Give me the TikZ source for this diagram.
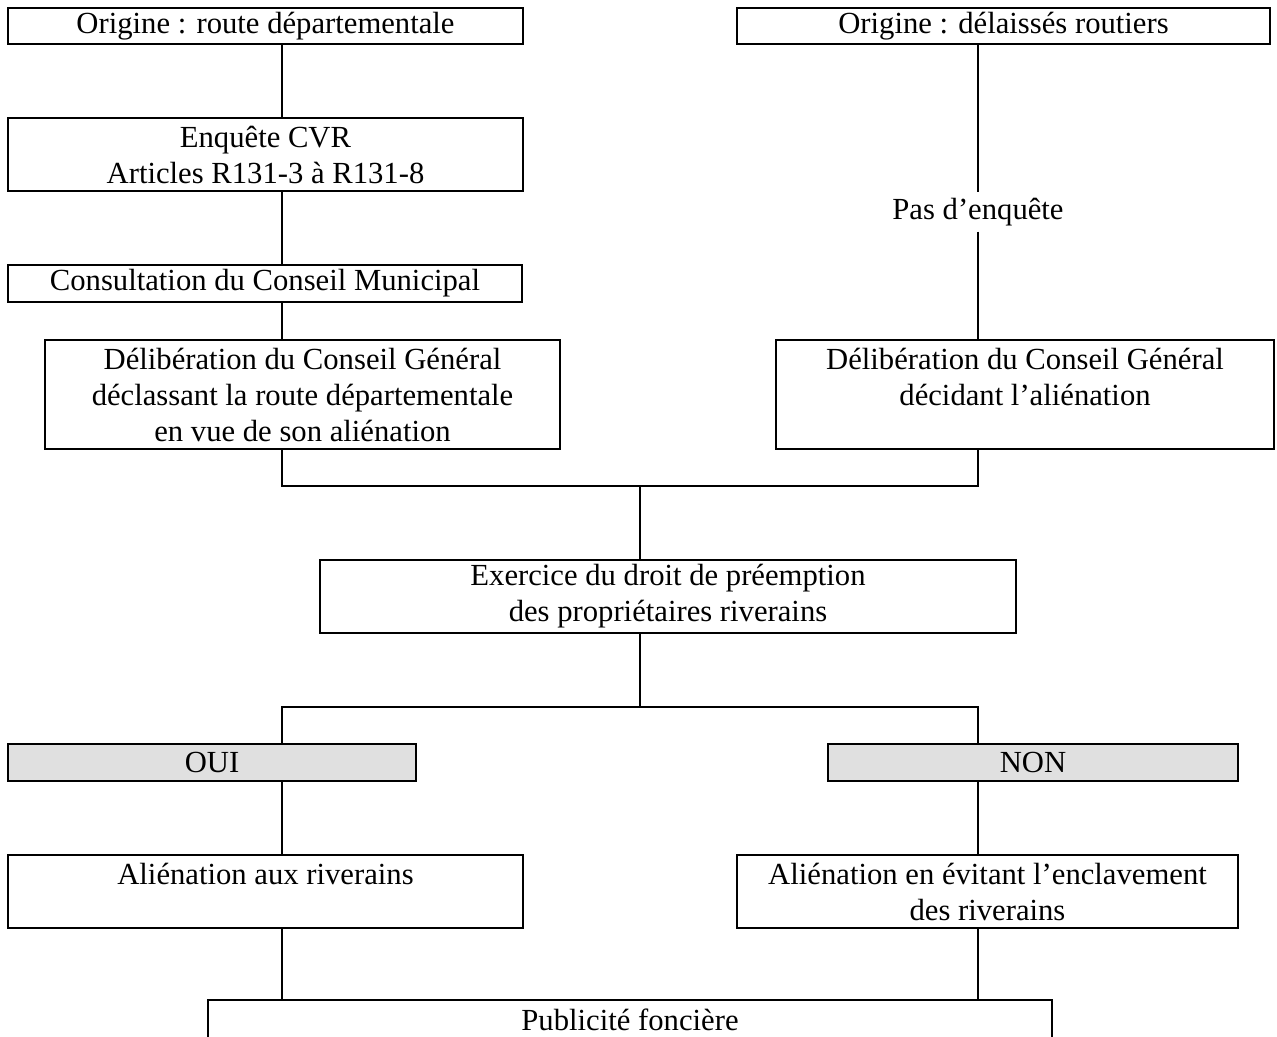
\documentclass[tikz,border=0pt]{standalone}
\usepackage{fontspec}
\setmainfont{Liberation Serif}
\definecolor{choicegray}{RGB}{224,224,224}
\begin{document}
\begin{tikzpicture}[x=0.75pt,y=-0.75pt,
  box/.style={draw, line width=1.5pt, inner sep=0pt, align=center,
    font=\fontsize{23}{27}\selectfont},
  choice/.style={box, fill=choicegray},
  plain/.style={inner sep=4pt, align=center, font=\fontsize{23}{27}\selectfont},
  link/.style={line width=1pt}]
\clip (0,0) rectangle (1277,1037);

% column guides for the connectors
\coordinate (colL) at (282,0);
\coordinate (colR) at (978,0);
\coordinate (joinA) at (640,486);
\coordinate (joinB) at (640,707);

% left branch: departmental road
\node[box, minimum width=386.25pt, minimum height=27pt] (orgL) at (265.5,26) {Origine : route départementale};
\node[box, minimum width=386.25pt, minimum height=54.75pt] (cvr) at (265.5,154.5) {Enquête CVR\\Articles R131-3 à R131-8};
\node[box, minimum width=385.5pt, minimum height=27.75pt] (cons) at (265,283.5) {Consultation du Conseil Municipal};
\node[box, minimum width=386.25pt, minimum height=81.75pt] (delL) at (302.5,394.5) {Délibération du Conseil Général\\déclassant la route départementale\\en vue de son aliénation};

% right branch: road leftovers
\node[box, minimum width=399.75pt, minimum height=27pt] (orgR) at (1003.5,26) {Origine : délaissés routiers};
\node[plain] (noinq) at (978,212) {Pas d’enquête};
\node[box, minimum width=373.5pt, minimum height=81.75pt] (delR) at (1025,394.5) {Délibération du Conseil Général\\décidant l’aliénation\\\mbox{}};

% common part
\node[box, minimum width=522pt, minimum height=54.75pt] (pre) at (668,596.5) {Exercice du droit de préemption\\des propriétaires riverains};
\node[choice, minimum width=306pt, minimum height=27.75pt] (oui) at (212,762.5) {OUI};
\node[choice, minimum width=307.5pt, minimum height=27.75pt] (non) at (1033,762.5) {NON};
\node[box, minimum width=386.25pt, minimum height=54.75pt] (aliL) at (265.5,891.5) {Aliénation aux riverains\\\mbox{}};
\node[box, minimum width=375.75pt, minimum height=54.75pt] (aliR) at (987.5,891.5) {Aliénation en évitant l’enclavement\\des riverains};
\node[box, minimum width=633pt, minimum height=30pt] (pub) at (630,1020) {Publicité foncière};

% connectors
\draw[link] (orgL.south -| colL) -- (cvr.north -| colL);
\draw[link] (cvr.south -| colL) -- (cons.north -| colL);
\draw[link] (cons.south -| colL) -- (delL.north -| colL);
\draw[link] (orgR.south -| colR) -- (noinq.north -| colR);
\draw[link] (noinq.south -| colR) -- (delR.north -| colR);
\draw[link] (delL.south -| colL) |- (joinA) -| (delR.south -| colR);
\draw[link] (joinA) -- (pre.north -| joinA);
\draw[link] (pre.south -| joinB) -- (joinB);
\draw[link] (oui.north -| colL) |- (joinB) -| (non.north -| colR);
\draw[link] (oui.south -| colL) -- (aliL.north -| colL);
\draw[link] (non.south -| colR) -- (aliR.north -| colR);
\draw[link] (aliL.south -| colL) -- (pub.north -| colL);
\draw[link] (aliR.south -| colR) -- (pub.north -| colR);
\end{tikzpicture}
\end{document}
